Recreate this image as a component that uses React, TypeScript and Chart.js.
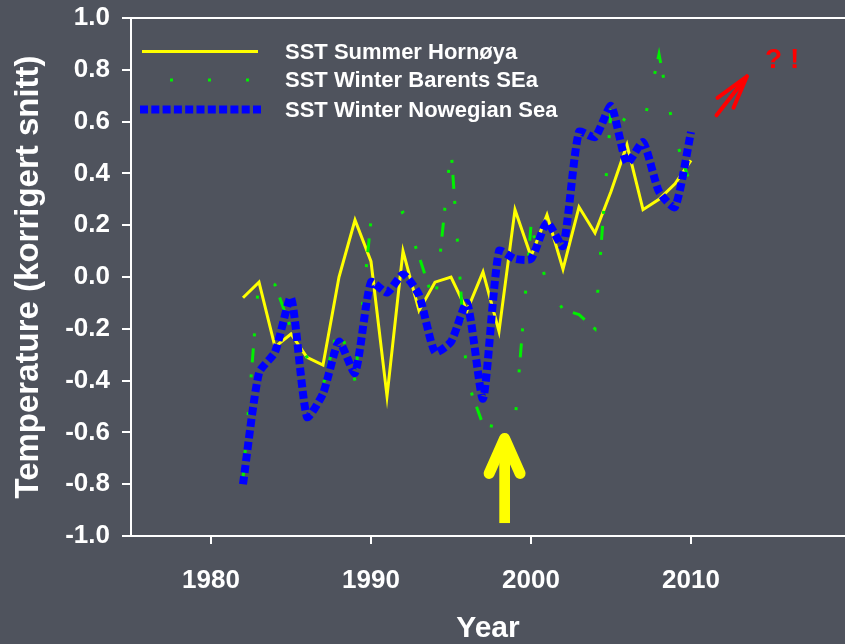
import React, { useEffect, useRef } from 'react';
import { Chart, registerables } from 'chart.js';

Chart.register(...registerables);

const years = [
  1982, 1983, 1984, 1985, 1986, 1987, 1988, 1989, 1990, 1991,
  1992, 1993, 1994, 1995, 1996, 1997, 1998, 1999, 2000, 2001,
  2002, 2003, 2004, 2005, 2006, 2007, 2008, 2009, 2010,
];

const summerHornoya = [
  -0.08, -0.02, -0.27, -0.22, -0.31, -0.34, 0.0, 0.22, 0.06, -0.46,
  0.1, -0.13, -0.02, 0.0, -0.13, 0.02, -0.21, 0.26, 0.08, 0.24,
  0.03, 0.27, 0.17, 0.33, 0.51, 0.26, 0.3, 0.36, 0.45,
];

const winterBarents = [
  -0.78, 0.0, -0.03, -0.2, -0.31, -0.42, -0.18, -0.4, 0.22, 0.22,
  0.25, 0.08, -0.11, 0.5, -0.4, -0.57, -0.58, -0.56, 0.2, -0.03,
  -0.125, -0.145, -0.2, 0.64, 0.6, 0.58, 0.86, 0.54, 0.35,
];

const winterNorwegian = [
  -0.8, -0.37, -0.29, -0.08, -0.54, -0.45, -0.25, -0.37, -0.02, -0.06,
  0.01, -0.07, -0.29, -0.25, -0.1, -0.47, 0.1, 0.07, 0.07, 0.21,
  0.12, 0.56, 0.54, 0.66, 0.44, 0.52, 0.33, 0.27, 0.56,
];

const seriesLabels = ['SST Summer Hornøya', 'SST Winter Barents SEa', 'SST Winter Nowegian Sea'];
const xTickYears = [1980, 1990, 2000, 2010];
const xTitle = 'Year';
const yTitle = 'Temperature (korrigert snitt)';
const noteText = '? !';

const FONT = '"Liberation Sans", Arial, Helvetica, sans-serif';
const BG = '#4f535d';
const YELLOW = '#ffff00';
const GREEN = '#00f000';
const BLUE = '#0000ff';
const RED = '#ff0000';

export default function App() {
  const ref = useRef<HTMLCanvasElement | null>(null);

  useEffect(() => {
    const canvas = ref.current;
    if (!canvas) return;
    const toPts = (vals: number[]) => years.map((yr, i) => ({ x: yr, y: vals[i] }));

    const overlay = {
      id: 'overlay',
      beforeDraw(chart: any) {
        const ctx = chart.ctx;
        ctx.save();
        ctx.fillStyle = BG;
        ctx.fillRect(0, 0, chart.width, chart.height);
        ctx.restore();
      },
      afterDraw(chart: any) {
        const ctx = chart.ctx;
        const { left, right, top } = chart.chartArea;
        const xs = chart.scales.x;
        const ys = chart.scales.y;
        ctx.save();
        // top frame line
        ctx.strokeStyle = '#ffffff';
        ctx.lineWidth = 2;
        ctx.beginPath();
        ctx.moveTo(left - 1, top);
        ctx.lineTo(right, top);
        ctx.stroke();

        // legend
        const lx0 = 142;
        const lx1 = 258;
        const rows = [51.5, 80, 109.5];
        ctx.lineCap = 'butt';
        ctx.strokeStyle = YELLOW;
        ctx.lineWidth = 3;
        ctx.setLineDash([]);
        ctx.beginPath();
        ctx.moveTo(lx0, rows[0]);
        ctx.lineTo(lx1, rows[0]);
        ctx.stroke();

        ctx.strokeStyle = GREEN;
        ctx.lineWidth = 3;
        ctx.setLineDash([3, 35]);
        ctx.lineDashOffset = 10;
        ctx.beginPath();
        ctx.moveTo(lx0, rows[1]);
        ctx.lineTo(lx1, rows[1]);
        ctx.stroke();

        ctx.strokeStyle = BLUE;
        ctx.lineWidth = 8;
        ctx.setLineDash([8, 3.3]);
        ctx.lineDashOffset = 0;
        ctx.beginPath();
        ctx.moveTo(140, rows[2]);
        ctx.lineTo(261.5, rows[2]);
        ctx.stroke();
        ctx.setLineDash([]);

        ctx.fillStyle = '#ffffff';
        ctx.font = `bold 22px ${FONT}`;
        ctx.textAlign = 'left';
        ctx.textBaseline = 'middle';
        seriesLabels.forEach((t, i) => ctx.fillText(t, 285, rows[i] + 1));

        // yellow arrow
        const ax = xs.getPixelForValue(1998.35);
        const tipY = ys.getPixelForValue(-0.6);
        const baseY = ys.getPixelForValue(-0.95);
        ctx.fillStyle = YELLOW;
        ctx.fillRect(ax - 5.3, tipY + 12, 10.7, baseY - tipY - 12);
        ctx.strokeStyle = YELLOW;
        ctx.lineWidth = 11;
        ctx.lineCap = 'round';
        ctx.lineJoin = 'round';
        ctx.beginPath();
        ctx.moveTo(ax - 15.5, tipY + 41);
        ctx.lineTo(ax, tipY + 6);
        ctx.lineTo(ax + 15.5, tipY + 41);
        ctx.stroke();

        // red arrow
        const rx = xs.getPixelForValue(2013.5);
        const ry = ys.getPixelForValue(0.775);
        ctx.strokeStyle = RED;
        ctx.lineWidth = 4;
        ctx.lineCap = 'round';
        ctx.beginPath();
        ctx.moveTo(rx, ry);
        ctx.lineTo(rx - 30.5, ry + 39);
        ctx.moveTo(rx, ry);
        ctx.lineTo(rx - 13.5, ry + 31.5);
        ctx.moveTo(rx, ry);
        ctx.lineTo(rx - 29.5, ry + 21.5);
        ctx.stroke();

        ctx.fillStyle = RED;
        ctx.font = `bold 28px ${FONT}`;
        ctx.textBaseline = 'alphabetic';
        ctx.fillText(noteText, rx + 18, ry - 8.7);
        ctx.restore();
      },
    };

    const chart = new Chart(canvas, {
      type: 'line',
      data: {
        datasets: [
          {
            label: seriesLabels[0],
            data: toPts(summerHornoya),
            borderColor: YELLOW,
            backgroundColor: YELLOW,
            borderWidth: 3,
            pointRadius: 0,
            tension: 0,
            fill: false,
            order: 3,
          },
          {
            label: seriesLabels[1],
            data: toPts(winterBarents),
            borderColor: GREEN,
            backgroundColor: GREEN,
            borderWidth: 3,
            borderDash: [14, 12, 3, 35, 3, 35, 3, 12],
            borderCapStyle: 'butt',
            pointRadius: 0,
            tension: 0,
            fill: false,
            order: 2,
          },
          {
            label: seriesLabels[2],
            data: toPts(winterNorwegian),
            borderColor: BLUE,
            backgroundColor: BLUE,
            borderWidth: 8,
            borderDash: [8, 3.6],
            borderCapStyle: 'butt',
            borderJoinStyle: 'miter',
            pointRadius: 0,
            tension: 0.2,
            fill: false,
            order: 1,
          },
        ],
      },
      options: {
        animation: false,
        responsive: false,
        maintainAspectRatio: false,
        layout: { padding: { top: 18, right: 0, left: 0, bottom: 0 } },
        plugins: {
          legend: { display: false },
          tooltip: { enabled: false },
        },
        scales: {
          x: {
            type: 'linear',
            min: 1975,
            max: 2019.625,
            afterBuildTicks: (s: any) => {
              s.ticks = xTickYears.map((v) => ({ value: v }));
            },
            afterFit: (s: any) => {
              s.height = 108;
              s.paddingLeft = 0;
              s.paddingRight = 0;
            },
            border: { display: true, color: '#ffffff', width: 2 },
            grid: {
              display: true,
              drawOnChartArea: false,
              drawTicks: true,
              tickLength: 8,
              color: '#ffffff',
              lineWidth: 2,
            },
            ticks: {
              color: '#ffffff',
              font: { family: FONT, size: 26, weight: 'bold' },
              padding: 21,
              maxRotation: 0,
              autoSkip: false,
              callback: (v: any) => String(v),
            },
            title: {
              display: true,
              text: xTitle,
              color: '#ffffff',
              font: { family: FONT, size: 30, weight: 'bold' },
              padding: { top: 0, bottom: -3 },
            },
          },
          y: {
            min: -1,
            max: 1,
            afterFit: (s: any) => {
              s.width = 131;
              s.paddingTop = 0;
              s.paddingBottom = 0;
            },
            border: { display: true, color: '#ffffff', width: 2 },
            grid: {
              display: true,
              drawOnChartArea: false,
              drawTicks: true,
              tickLength: 9,
              color: '#ffffff',
              lineWidth: 2,
            },
            ticks: {
              stepSize: 0.2,
              color: '#ffffff',
              font: { family: FONT, size: 26, weight: 'bold' },
              padding: 12,
              callback: (v: any) => (Math.abs(v) < 1e-9 ? '0.0' : Number(v).toFixed(1)),
            },
            title: {
              display: true,
              text: yTitle,
              color: '#ffffff',
              font: { family: FONT, size: 33, weight: 'bold' },
              padding: { top: 9, bottom: 0 },
            },
          },
        },
      },
      plugins: [overlay],
    } as any);

    return () => chart.destroy();
  }, []);

  return (
    <div style={{ position: 'fixed', left: 0, top: 0, width: 845, height: 644, background: BG }}>
      <canvas ref={ref} width={845} height={644} style={{ width: 845, height: 644, display: 'block' }} />
    </div>
  );
}
